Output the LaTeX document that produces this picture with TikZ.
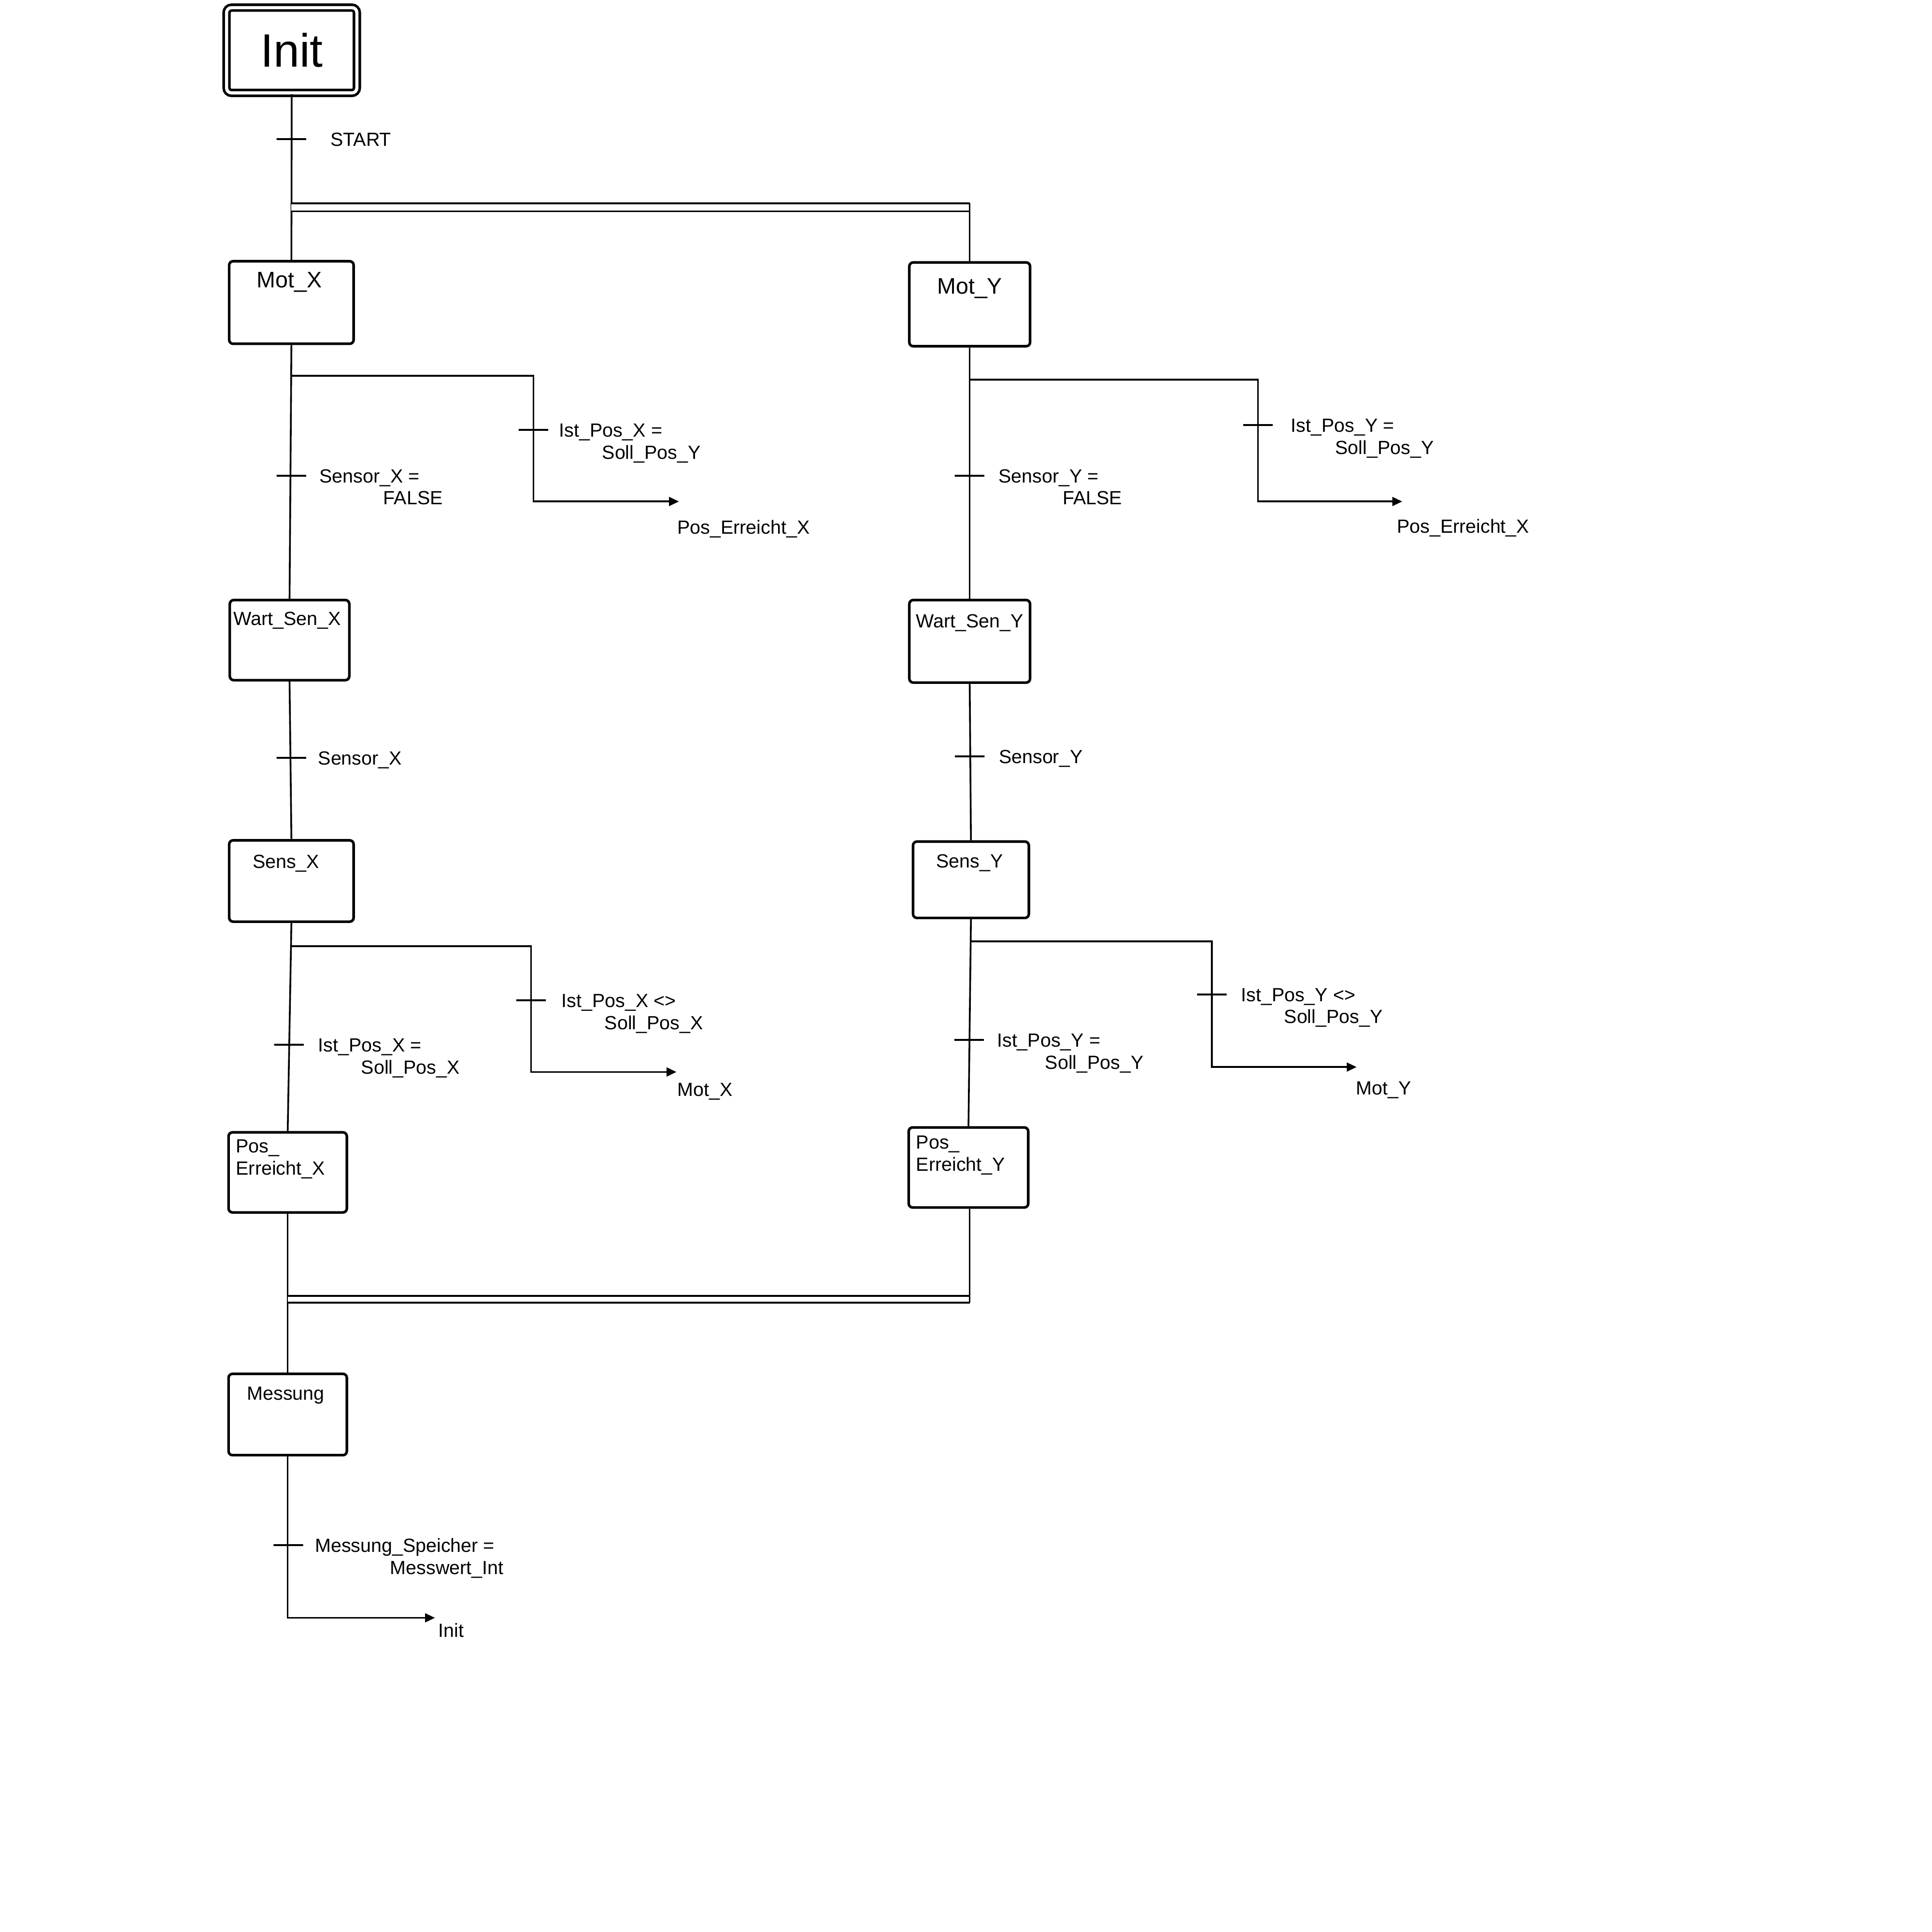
\documentclass[tikz,border=0pt]{standalone}
\usepackage{fontspec}
\setmainfont{Liberation Sans}
\usetikzlibrary{positioning,arrows.meta}

\begin{document}
\begin{tikzpicture}[x=0.25mm, y=-0.25mm, line width=1pt,
    stepbox/.style={draw, rounded corners=0.8mm, line width=1.5pt, inner sep=0pt},
    steptitle/.style={anchor=base, inner sep=0pt, align=left, font=\fontsize{11}{12.8}\selectfont},
    initbox/.style={draw, double, double distance=0.64mm, rounded corners=1mm, line width=1.5pt,
        minimum width=26.44mm, minimum height=17.3mm, font=\fontsize{27}{30}\selectfont},
    tickmark/.style={draw, line width=1.1pt, minimum width=6mm, minimum height=0pt, inner sep=0pt, outer sep=0pt},
    cond/.style={anchor=base west, yshift=-1.4mm, inner sep=0pt, align=left, font=\fontsize{11}{12.8}\selectfont},
    condtwo/.style={cond, yshift=-4.5mm},
    target/.style={anchor=base west, inner sep=0pt, font=\fontsize{11}{12.8}\selectfont},
    goto/.style={-{Triangle[length=2mm, width=1.8mm]}},
    parallel/.style={double, double distance=1.28mm}
]
\useasboundingbox (0,0) rectangle (1568,1568);

% initial step
    \node[initbox] (init) at (236.75,40.8) {Init};

% steps, left branch
    \node[stepbox, minimum width=25.25mm, minimum height=16.75mm,
        label={[steptitle, font=\fontsize{13}{15}\selectfont, xshift=-0.4mm, yshift=-5.65mm]north:Mot\_X}] (motX) at (236.5,245.5) {};
    \node[stepbox, minimum width=24.25mm, minimum height=16.25mm,
        label={[steptitle, xshift=-0.5mm, yshift=-5.4mm]north:Wart\_Sen\_X}] (wartX) at (235,519.5) {};
    \node[stepbox, minimum width=25.25mm, minimum height=16.5mm,
        label={[steptitle, xshift=-1.1mm, yshift=-5.9mm]north:Sens\_X}] (sensX) at (236.5,715) {};
    \node[stepbox, minimum width=24mm, minimum height=16.25mm,
        label={[steptitle, anchor=base west, xshift=1.6mm, yshift=-8.9mm]north west:Pos\_\\Erreicht\_X}] (posX) at (233.5,951.5) {};
    \node[stepbox, minimum width=24mm, minimum height=16.5mm,
        label={[steptitle, xshift=-0.4mm, yshift=-5.6mm]north:Messung}] (messung) at (233.5,1148) {};

% steps, right branch
    \node[stepbox, minimum width=24.5mm, minimum height=17mm,
        label={[steptitle, font=\fontsize{13}{15}\selectfont, yshift=-6.65mm]north:Mot\_Y}] (motY) at (787,247) {};
    \node[stepbox, minimum width=24.5mm, minimum height=16.75mm,
        label={[steptitle, yshift=-5.9mm]north:Wart\_Sen\_Y}] (wartY) at (787,520.5) {};
    \node[stepbox, minimum width=23.5mm, minimum height=15.5mm,
        label={[steptitle, xshift=-0.25mm, yshift=-5.6mm]north:Sens\_Y}] (sensY) at (788,714) {};
    \node[stepbox, minimum width=24.25mm, minimum height=16.25mm,
        label={[steptitle, anchor=base west, xshift=1.6mm, yshift=-9.1mm]north west:Pos\_\\Erreicht\_Y}] (posY) at (786,947.5) {};

% start transition
    \draw (init.south) -- (motX.north);
    \node[tickmark] (tStart) at (236.5,113) {};
    \node[right=4.75mm of tStart, cond] (cStart) {START};

% parallel split
    \coordinate (splitL) at (236.5,168.2);
    \coordinate (splitR) at (787,168.2);
    \draw[parallel] (splitL) -- (splitR);
    \draw ([yshift=0.82mm]splitR) -- (motY.north);

% left sequence
    \draw (motX.south) -- (wartX.north);
    \draw (wartX.south) -- (sensX.north);
    \draw (sensX.south) -- (posX.north);
    \draw (posX.south) -- (messung.north);

    \node[tickmark] (tB) at (236.5,386) {};
    \node[right=2.5mm of tB, condtwo] (cB) {Sensor\_X =\\\hspace*{13mm}FALSE};
    \node[tickmark] (tC) at (236.5,615) {};
    \node[right=2.25mm of tC, cond] (cC) {Sensor\_X};
    \node[tickmark] (tE) at (234.5,848) {};
    \node[right=2.75mm of tE, condtwo] (cE) {Ist\_Pos\_X =\\\hspace*{8.75mm}Soll\_Pos\_X};

% left jumps
    \coordinate (brA) at (236.3,305);
    \coordinate (bendA) at (433,407);
    \coordinate (tipA) at (551,407);
    \draw[goto] (brA) -| (bendA) -- (tipA);
    \node[tickmark] (tA) at (433,349) {};
    \node[right=2mm of tA, condtwo] (cA) {Ist\_Pos\_X =\\\hspace*{8.75mm}Soll\_Pos\_Y};
    \node[target] (gotoA) at ([xshift=-0.5mm, yshift=-6.6mm]tipA) {Pos\_Erreicht\_X};

    \coordinate (brB) at (235.8,768);
    \coordinate (bendB) at (431,870);
    \coordinate (tipB) at (549,870);
    \draw[goto] (brB) -| (bendB) -- (tipB);
    \node[tickmark] (tD) at (431,812) {};
    \node[right=3mm of tD, condtwo] (cD) {Ist\_Pos\_X <>\\\hspace*{8.75mm}Soll\_Pos\_X};
    \node[target] (gotoB) at ([yshift=-4.9mm]tipB) {Mot\_X};

% right sequence
    \draw (motY.south) -- (wartY.north);
    \draw (wartY.south) -- (sensY.north);
    \draw (sensY.south) -- (posY.north);

    \node[tickmark] (tH) at (786.8,386) {};
    \node[right=2.75mm of tH, condtwo] (cH) {Sensor\_Y =\\\hspace*{13mm}FALSE};
    \node[tickmark] (tI) at (787,614) {};
    \node[right=2.75mm of tI, cond] (cI) {Sensor\_Y};
    \node[tickmark] (tK) at (786.5,844) {};
    \node[right=2.5mm of tK, condtwo] (cK) {Ist\_Pos\_Y =\\\hspace*{9.75mm}Soll\_Pos\_Y};

% right jumps
    \coordinate (brC) at (787,308);
    \coordinate (bendC) at (1021,407);
    \coordinate (tipC) at (1138,407);
    \draw[goto] (brC) -| (bendC) -- (tipC);
    \node[tickmark] (tG) at (1021,345) {};
    \node[right=3.5mm of tG, condtwo] (cG) {Ist\_Pos\_Y =\\\hspace*{9mm}Soll\_Pos\_Y};
    \node[target] (gotoC) at ([xshift=-1.25mm, yshift=-6.4mm]tipC) {Pos\_Erreicht\_X};

    \coordinate (brD) at (787,764);
    \coordinate (bendD) at (983.5,866);
    \coordinate (tipD) at (1101,866);
    \draw[goto] (brD) -| (bendD) -- (tipD);
    \node[tickmark] (tJ) at (983.5,807) {};
    \node[right=2.75mm of tJ, condtwo] (cJ) {Ist\_Pos\_Y <>\\\hspace*{8.75mm}Soll\_Pos\_Y};
    \node[target] (gotoD) at ([xshift=-0.25mm, yshift=-5.6mm]tipD) {Mot\_Y};

% parallel join
    \coordinate (joinL) at (233.5,1054.5);
    \coordinate (joinR) at (787,1054.5);
    \draw[parallel, double distance=1mm] (joinL) -- (joinR);
    \draw (posY.south -| joinR) -- ([yshift=-0.67mm]joinR);

% back to init
    \coordinate (tipM) at (353,1313);
    \draw[goto] (messung.south) |- (tipM);
    \node[tickmark] (tF) at (234,1254) {};
    \node[right=2.25mm of tF, condtwo] (cF) {Messung\_Speicher =\\\hspace*{15.25mm}Messwert\_Int};
    \node[target] (gotoM) at ([xshift=0.5mm, yshift=-3.9mm]tipM) {Init};

\end{tikzpicture}
\end{document}
